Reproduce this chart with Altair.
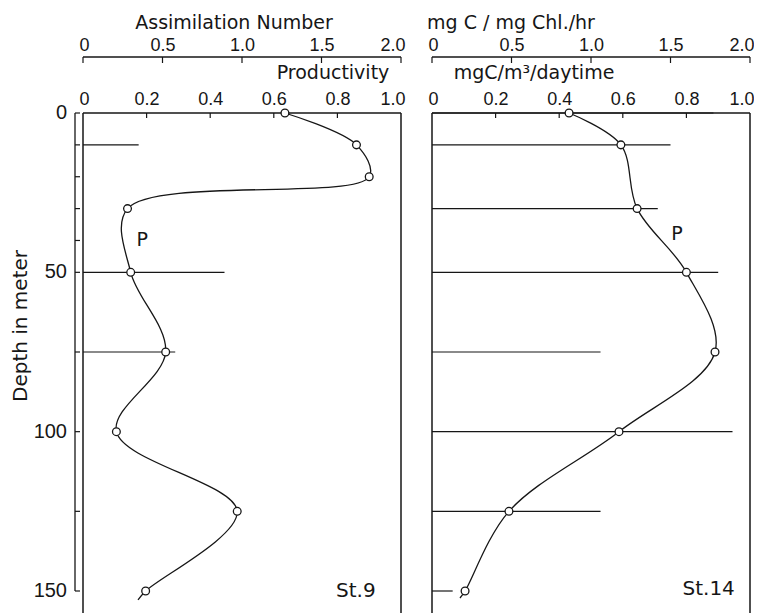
import altair as alt
import pandas as pd

# ---- Station 9 ----
st9_depth = [0, 10, 20, 30, 50, 75, 100, 125, 150]
st9_productivity = [0.635, 0.86, 0.90, 0.14, 0.15, 0.26, 0.105, 0.485, 0.197]
st9_assim_depth = [10, 50, 75]
st9_assimilation = [0.35, 0.89, 0.58]
st9_tail = (152.8, 0.173)   # curve continues a little below the last sample

# ---- Station 14 ----
st14_depth = [0, 10, 30, 50, 75, 100, 125, 150]
st14_productivity = [0.431, 0.594, 0.645, 0.80, 0.89, 0.588, 0.242, 0.104]
st14_assim_depth = [0, 10, 30, 50, 75, 100, 125, 150]
st14_assimilation = [1.77, 1.50, 1.42, 1.80, 1.06, 1.89, 1.06, 0.13]
st14_tail = (152.2, 0.088)

# ---- axes ----
depth_tick_values = [0, 10, 20, 30, 40, 50, 75, 100, 125, 150]
depth_tick_labels = ["0", "", "", "", "", "50", "", "100", "", "150"]
assim_tick_values = [0, 0.5, 1.0, 1.5, 2.0]
prod_tick_values = [0, 0.2, 0.4, 0.6, 0.8, 1.0]
prod_inner_ticks = [0.2, 0.4, 0.6, 0.8]

INK = "#161616"
WORD_FONT = "DejaVu Sans"
NUM_FONT = "Liberation Sans"
FRAME_W = 318
PLOT_H = 478          # depth 0..150
FRAME_H = 500         # frame lines run a little below 150 m
ASSIM_OFFSET = 56
GUTTER = 9            # gap between the depth axis line and the frame

label_expr = "datum.value == 0 ? '0' : format(datum.value, '.1f')"


def one():
    return alt.Data(values=[{}])


def panel(depth, prod, tail, bar_depth, bar_val, station, p_at, st_at,
          unit_top, unit_top_x, unit_mid, unit_mid_x, with_depth_axis):
    x0 = GUTTER if with_depth_axis else 0
    width = x0 + FRAME_W
    y_scale = alt.Scale(domain=[0, 150], reverse=True, nice=False, zero=False)
    assim_scale = alt.Scale(domain=[0, 2], range=[x0, width], nice=False, zero=False)
    prod_scale = alt.Scale(domain=[0, 1], range=[x0, width], nice=False, zero=False)
    # short scale spanning the depth-axis tick length
    tick_scale = alt.Scale(domain=[0, 1], range=[1, 6], nice=False, zero=False)

    assim_axis = alt.Axis(
        orient="top", offset=ASSIM_OFFSET, values=assim_tick_values,
        labelExpr=label_expr, domain=False, ticks=False, grid=False,
        title=None, labelPadding=3, labelOverlap=False,
        labelFlush=True, labelFlushOffset=4,
        labelFont=NUM_FONT, labelFontSize=18, labelColor=INK,
    )
    prod_axis = alt.Axis(
        orient="top", offset=0, values=prod_tick_values,
        labelExpr=label_expr, domain=False, ticks=False, grid=False,
        title=None, labelPadding=5, labelOverlap=False,
        labelFlush=True, labelFlushOffset=4,
        labelFont=NUM_FONT, labelFontSize=18, labelColor=INK,
    )

    profile = pd.DataFrame({"depth": depth, "prod": prod})
    curve = pd.DataFrame({"depth": depth + [tail[0]], "prod": prod + [tail[1]]})
    bars = pd.DataFrame({"depth": bar_depth, "zero": [0] * len(bar_depth),
                         "assim": bar_val})

    layers = []

    # assimilation number: horizontal bars from the left edge
    layers.append(
        alt.Chart(bars).mark_rule(color=INK, strokeWidth=1.2).encode(
            x=alt.X("zero:Q", scale=assim_scale, axis=assim_axis),
            x2="assim:Q",
            y=alt.Y("depth:Q", scale=y_scale, axis=None),
        )
    )
    # assimilation axis line with downward ticks
    layers.append(alt.Chart(one()).mark_rule(color=INK, strokeWidth=1.3).encode(
        x=alt.value(x0), x2=alt.value(width), y=alt.value(-ASSIM_OFFSET)))
    assim_ticks = pd.DataFrame({"v": assim_tick_values})
    layers.append(
        alt.Chart(assim_ticks).mark_rule(color=INK, strokeWidth=1.2).encode(
            x=alt.X("v:Q", scale=assim_scale, axis=None),
            y=alt.value(-ASSIM_OFFSET),
            y2=alt.value(-ASSIM_OFFSET + 6),
        )
    )
    # inward ticks of the productivity axis (frame top)
    prod_ticks = pd.DataFrame({"v": prod_inner_ticks})
    layers.append(
        alt.Chart(prod_ticks).mark_rule(color=INK, strokeWidth=1.2).encode(
            x=alt.X("v:Q", scale=prod_scale, axis=None),
            y=alt.value(0),
            y2=alt.value(5),
        )
    )
    # frame: left, right and top
    layers.append(alt.Chart(one()).mark_rule(color=INK, strokeWidth=1.5).encode(
        x=alt.value(x0), y=alt.value(0), y2=alt.value(FRAME_H)))
    layers.append(alt.Chart(one()).mark_rule(color=INK, strokeWidth=1.5).encode(
        x=alt.value(width), y=alt.value(0), y2=alt.value(FRAME_H)))
    layers.append(alt.Chart(one()).mark_rule(color=INK, strokeWidth=1.5).encode(
        x=alt.value(x0), x2=alt.value(width), y=alt.value(0)))

    # productivity profile
    layers.append(
        alt.Chart(curve).mark_line(color=INK, strokeWidth=1.3,
                                   interpolate="catmull-rom").encode(
            x=alt.X("prod:Q", scale=prod_scale, axis=prod_axis),
            y=alt.Y("depth:Q", scale=y_scale, axis=None),
            order=alt.Order("depth:Q"),
        )
    )
    layers.append(
        alt.Chart(profile).mark_circle(fill="white", stroke=INK, strokeWidth=1.3,
                                       size=60, opacity=1).encode(
            x=alt.X("prod:Q", scale=prod_scale, axis=None),
            y=alt.Y("depth:Q", scale=y_scale, axis=None),
        )
    )

    # curve label and station name
    notes = pd.DataFrame({
        "prod": [p_at[0], st_at[0]],
        "depth": [p_at[1], st_at[1]],
        "txt": ["P", station],
        "fs": [19, 20],
    })
    layers.append(
        alt.Chart(notes).mark_text(font=WORD_FONT, color=INK, align="center",
                                   baseline="middle").encode(
            x=alt.X("prod:Q", scale=prod_scale, axis=None),
            y=alt.Y("depth:Q", scale=y_scale, axis=None),
            text="txt:N",
            size=alt.Size("fs:Q", scale=None, legend=None),
        )
    )

    # axis captions
    layers.append(alt.Chart(one()).mark_text(
        font=WORD_FONT, fontSize=19, color=INK, align="center", baseline="middle",
        text=unit_top).encode(x=alt.value(x0 + unit_top_x), y=alt.value(-90)))
    layers.append(alt.Chart(one()).mark_text(
        font=WORD_FONT, fontSize=19, color=INK, align="center", baseline="middle",
        text=unit_mid).encode(x=alt.value(x0 + unit_mid_x), y=alt.value(-40)))

    if with_depth_axis:
        # depth axis: line, inward ticks and labels, left of the frame
        depth_ticks = pd.DataFrame({
            "d": depth_tick_values,
            "label": depth_tick_labels,
            "t0": [0] * len(depth_tick_values),
            "t1": [1] * len(depth_tick_values),
        })
        base = alt.Chart(depth_ticks)
        layers.append(base.mark_line(color=INK, strokeWidth=1.3).encode(
            x=alt.X("t0:Q", scale=tick_scale, axis=None),
            y=alt.Y("d:Q", scale=y_scale, axis=None),
            order=alt.Order("d:Q")))
        layers.append(base.mark_rule(color=INK, strokeWidth=1.2).encode(
            x=alt.X("t0:Q", scale=tick_scale, axis=None),
            x2="t1:Q",
            y=alt.Y("d:Q", scale=y_scale, axis=None)))
        layers.append(base.mark_text(
            font=NUM_FONT, fontSize=20, color=INK, align="right",
            baseline="middle").encode(
            x=alt.value(-7),
            y=alt.Y("d:Q", scale=y_scale, axis=None),
            text="label:N"))
        layers.append(alt.Chart(one()).mark_text(
            font=WORD_FONT, fontSize=20, color=INK, align="center",
            baseline="middle", angle=270, text="Depth in meter").encode(
            x=alt.value(-53), y=alt.value(213)))
        # fixes the top-left corner of the drawing
        layers.append(alt.Chart(one()).mark_rule(color="white", strokeWidth=1).encode(
            x=alt.value(-73), x2=alt.value(-72), y=alt.value(-112)))

    return alt.layer(*layers).resolve_scale(x="independent").properties(
        width=width, height=PLOT_H)


left = panel(st9_depth, st9_productivity, st9_tail,
             st9_assim_depth, st9_assimilation, "St.9",
             (0.186, 40), (0.858, 150),
             "Assimilation Number", 151, "Productivity", 250, True)
right = panel(st14_depth, st14_productivity, st14_tail,
              st14_assim_depth, st14_assimilation, "St.14",
              (0.77, 38), (0.87, 149.5),
              "mg C / mg Chl./hr", 79, "mgC/m³/daytime", 102, False)

chart = alt.hconcat(left, right, spacing=31, bounds="flush").properties(
    padding=0, background="white"
).configure_view(stroke=None)

chart.save("out.html", embed_options={"renderer": "svg", "actions": False})
